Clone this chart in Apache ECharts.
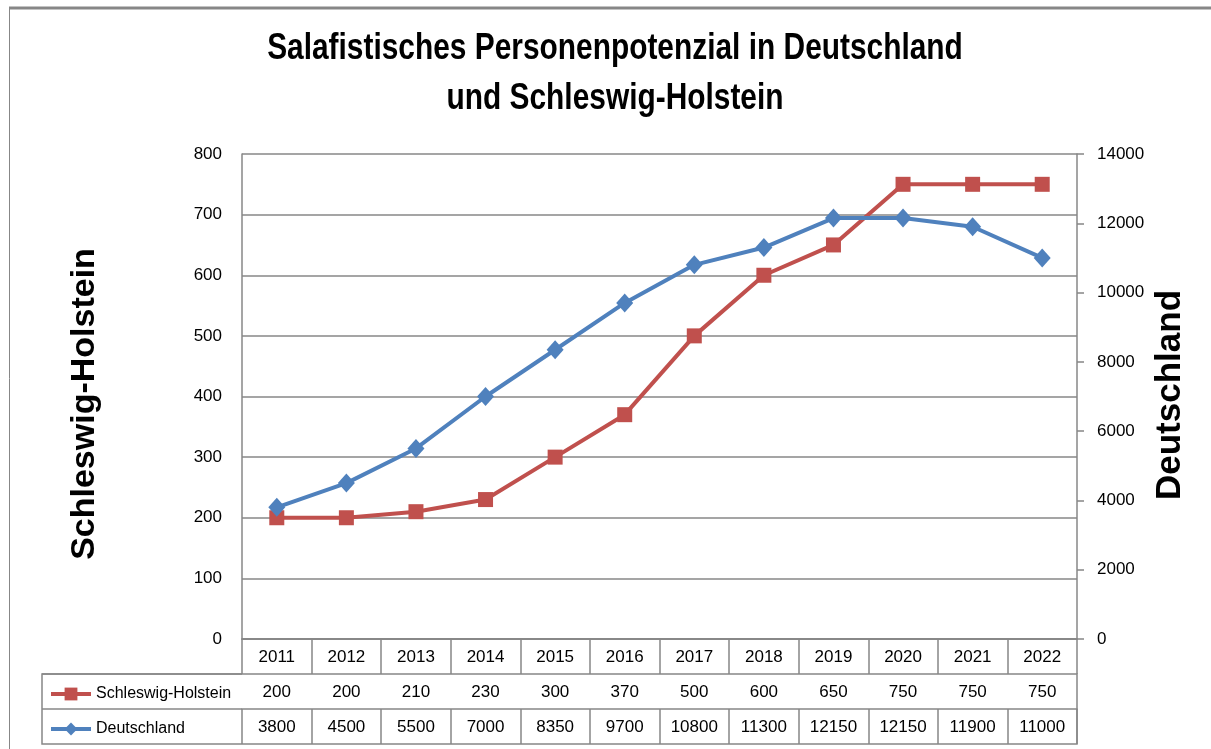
<!DOCTYPE html>
<html>
<head>
<meta charset="utf-8">
<script src="https://cdn.jsdelivr.net/npm/echarts@6/dist/echarts.min.js"></script>
<style>
  html, body { margin: 0; padding: 0; background: #fff; }
  #chart { width: 1211px; height: 749px; }
</style>
</head>
<body>
<div id="chart"></div>
<script>
// Data
const years = ['2011', '2012', '2013', '2014', '2015', '2016', '2017', '2018', '2019', '2020', '2021', '2022'];
const shValues = [200, 200, 210, 230, 300, 370, 500, 600, 650, 750, 750, 750];
const deValues = [3800, 4500, 5500, 7000, 8350, 9700, 10800, 11300, 12150, 12150, 11900, 11000];
const leftTicks = { min: 0, max: 800, interval: 100 };
const rightTicks = { min: 0, max: 14000, interval: 2000 };

const gray = '#878787';
const font = 'Liberation Sans';
const rowH = 35;

const chart = echarts.init(document.getElementById('chart'));

function tableAxis(offset, formatter) {
    return {
        type: 'category',
        data: years,
        position: 'bottom',
        offset: offset,
        boundaryGap: true,
        axisLine: { show: true, lineStyle: { color: gray, width: 1.5 } },
        axisTick: { show: true, interval: 0, length: rowH, lineStyle: { color: gray, width: 1.5 } },
        axisLabel: {
            interval: 0, margin: 10, color: '#000',
            fontFamily: font, fontSize: 17,
            formatter: formatter
        },
        splitLine: { show: false }
    };
}

const option = {
    backgroundColor: '#fff',
    animation: false,
    grid: { left: 242, right: 134, top: 154, bottom: 110, containLabel: false },
    legend: {
        orient: 'vertical',
        left: 44,
        top: 681,
        itemWidth: 40,
        itemHeight: 16,
        itemGap: 19,
        textStyle: { fontFamily: font, fontSize: 16, color: '#000' },
        lineStyle: { width: 4 },
        data: ['Schleswig-Holstein', 'Deutschland']
    },
    xAxis: [
        tableAxis(0, function (v) { return v; }),
        tableAxis(rowH, function (v, i) { return String(shValues[i]); }),
        tableAxis(rowH * 2, function (v, i) { return String(deValues[i]); })
    ],
    yAxis: [
        {
            type: 'value',
            min: leftTicks.min, max: leftTicks.max, interval: leftTicks.interval,
            axisLine: { show: true, lineStyle: { color: gray, width: 1.5 } },
            axisTick: { show: false },
            axisLabel: { margin: 20, color: '#000', fontFamily: font, fontSize: 17 },
            splitLine: { show: true, lineStyle: { color: gray, width: 1.5 } }
        },
        {
            type: 'value',
            position: 'right',
            min: rightTicks.min, max: rightTicks.max, interval: rightTicks.interval,
            axisLine: { show: true, lineStyle: { color: gray, width: 1.5 } },
            axisTick: { show: true, length: 7, lineStyle: { color: gray, width: 1.5 } },
            axisLabel: {
                margin: 20, color: '#000', fontFamily: font, fontSize: 17,
                formatter: function (v) { return String(v); }
            },
            splitLine: { show: false }
        }
    ],
    series: [
        {
            name: 'Schleswig-Holstein',
            type: 'line',
            xAxisIndex: 0,
            yAxisIndex: 0,
            data: shValues,
            symbol: 'rect',
            symbolSize: 15,
            z: 2,
            lineStyle: { color: '#C0504D', width: 4 },
            itemStyle: { color: '#C0504D' }
        },
        {
            name: 'Deutschland',
            type: 'line',
            xAxisIndex: 0,
            yAxisIndex: 1,
            data: deValues,
            symbol: 'diamond',
            symbolSize: [17, 19],
            z: 3,
            lineStyle: { color: '#4F81BD', width: 4 },
            itemStyle: { color: '#4F81BD' }
        }
    ],
    graphic: [
        // outer frame
        { type: 'line', shape: { x1: 9, y1: 8, x2: 1211, y2: 8 }, style: { stroke: gray, lineWidth: 3 } },
        { type: 'line', shape: { x1: 9.5, y1: 8, x2: 9.5, y2: 749 }, style: { stroke: gray, lineWidth: 1 } },
        // table outline for the legend column
        { type: 'rect', shape: { x: 42, y: 639 + rowH, width: 1077 - 42, height: rowH * 2 },
          style: { fill: 'none', stroke: gray, lineWidth: 1.5 } },
        { type: 'line', shape: { x1: 42, y1: 639 + rowH * 2, x2: 242, y2: 639 + rowH * 2 },
          style: { stroke: gray, lineWidth: 1.5 } },
        { type: 'line', shape: { x1: 42, y1: 639 + rowH, x2: 242, y2: 639 + rowH },
          style: { stroke: gray, lineWidth: 1.5 } },
        // title (condensed bold look via horizontal scale)
        { type: 'text', x: 615, y: 49, scaleX: 0.83,
          style: { text: 'Salafistisches Personenpotenzial in Deutschland', fill: '#000',
                   font: 'bold 36px "Liberation Sans"', textAlign: 'center', textVerticalAlign: 'middle' } },
        { type: 'text', x: 615, y: 99, scaleX: 0.83,
          style: { text: 'und Schleswig-Holstein', fill: '#000',
                   font: 'bold 36px "Liberation Sans"', textAlign: 'center', textVerticalAlign: 'middle' } },
        // axis titles
        { type: 'text', x: 85, y: 404, rotation: Math.PI / 2,
          style: { text: 'Schleswig-Holstein', fill: '#000',
                   font: 'bold 34px "Liberation Sans"', textAlign: 'center', textVerticalAlign: 'middle' } },
        { type: 'text', x: 1170, y: 395, rotation: Math.PI / 2,
          style: { text: 'Deutschland', fill: '#000',
                   font: 'bold 35px "Liberation Sans"', textAlign: 'center', textVerticalAlign: 'middle' } }
    ]
};

chart.setOption(option);

window.addEventListener('resize', function () {
    chart.resize();
});
</script>
</body>
</html>
